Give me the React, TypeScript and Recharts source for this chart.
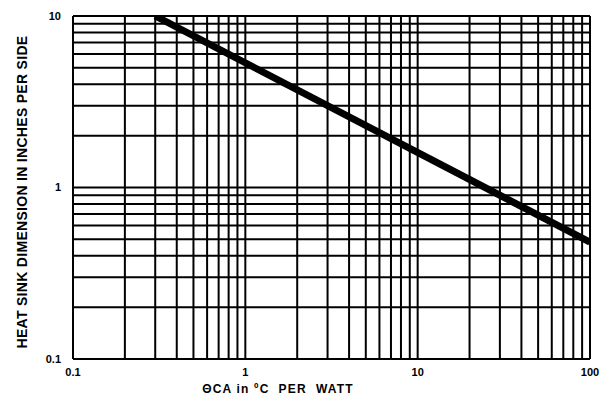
import {
  LineChart,
  Line,
  XAxis,
  YAxis,
  ReferenceLine,
} from "recharts";

// heat sink curve
const thetaCA = [0.3, 100];
const dimension = [10, 0.48];

const xTicks = [0.1, 1, 10, 100];
const yTicks = [0.1, 1, 10];

// log grid: 1..9 in each decade
const gridX = [
  0.2, 0.3, 0.4, 0.5, 0.6, 0.7, 0.8, 0.9, 1,
  2, 3, 4, 5, 6, 7, 8, 9, 10,
  20, 30, 40, 50, 60, 70, 80, 90,
];
const gridY = [
  0.2, 0.3, 0.4, 0.5, 0.6, 0.7, 0.8, 0.9, 1,
  2, 3, 4, 5, 6, 7, 8, 9,
];

const data = thetaCA.map((x, i) => ({ x, y: dimension[i] }));

const FONT = "'Liberation Sans', Arial, sans-serif";

export default function App() {
  return (
    <div style={{ position: "absolute", left: 0, top: 0, background: "#fff" }}>
      <LineChart
        width={615}
        height={400}
        data={data}
        margin={{ top: 16, right: 25, bottom: 11, left: 13 }}
      >
        <XAxis
          dataKey="x"
          type="number"
          scale="log"
          domain={[0.1, 100]}
          ticks={xTicks}
          tickFormatter={(v) => String(v)}
          allowDataOverflow
          height={30}
          axisLine={{ stroke: "#000", strokeWidth: 2 }}
          tickLine={false}
          tick={{ fill: "#000", fontSize: 11, fontWeight: 700, fontFamily: FONT }}
          tickMargin={3}
          label={{
            content: () => (
              <text
                x={278}
                y={393}
                textAnchor="middle"
                fontSize={12}
                fontWeight={700}
                fontFamily={FONT}
                letterSpacing={1.2}
                fill="#000"
              >
                {"ΘCA in ºC\u00a0\u00a0PER\u00a0\u00a0WATT"}
              </text>
            ),
          }}
        />
        <YAxis
          dataKey="y"
          type="number"
          scale="log"
          domain={[0.1, 10]}
          ticks={yTicks}
          tickFormatter={(v) => String(v)}
          allowDataOverflow
          width={60}
          axisLine={{ stroke: "#000", strokeWidth: 2 }}
          tickLine={false}
          tick={{ fill: "#000", fontSize: 11, fontWeight: 700, fontFamily: FONT }}
          tickMargin={6}
          label={{
            content: () => (
              <text
                x={27}
                y={192}
                transform="rotate(-90, 27, 192)"
                textAnchor="middle"
                fontSize={14}
                fontWeight={700}
                fontFamily={FONT}
                letterSpacing={0.3}
                fill="#000"
              >
                HEAT SINK DIMENSION IN INCHES PER SIDE
              </text>
            ),
          }}
        />
        {gridX.map((v) => (
          <ReferenceLine key={"gx" + v} x={v} stroke="#000" strokeWidth={2} />
        ))}
        {gridY.map((v) => (
          <ReferenceLine key={"gy" + v} y={v} stroke="#000" strokeWidth={2} />
        ))}
        <ReferenceLine x={100} stroke="#000" strokeWidth={2} />
        <ReferenceLine y={10} stroke="#000" strokeWidth={2} />
        <Line
          dataKey="y"
          stroke="#000"
          strokeWidth={7}
          dot={false}
          isAnimationActive={false}
        />
      </LineChart>
    </div>
  );
}
